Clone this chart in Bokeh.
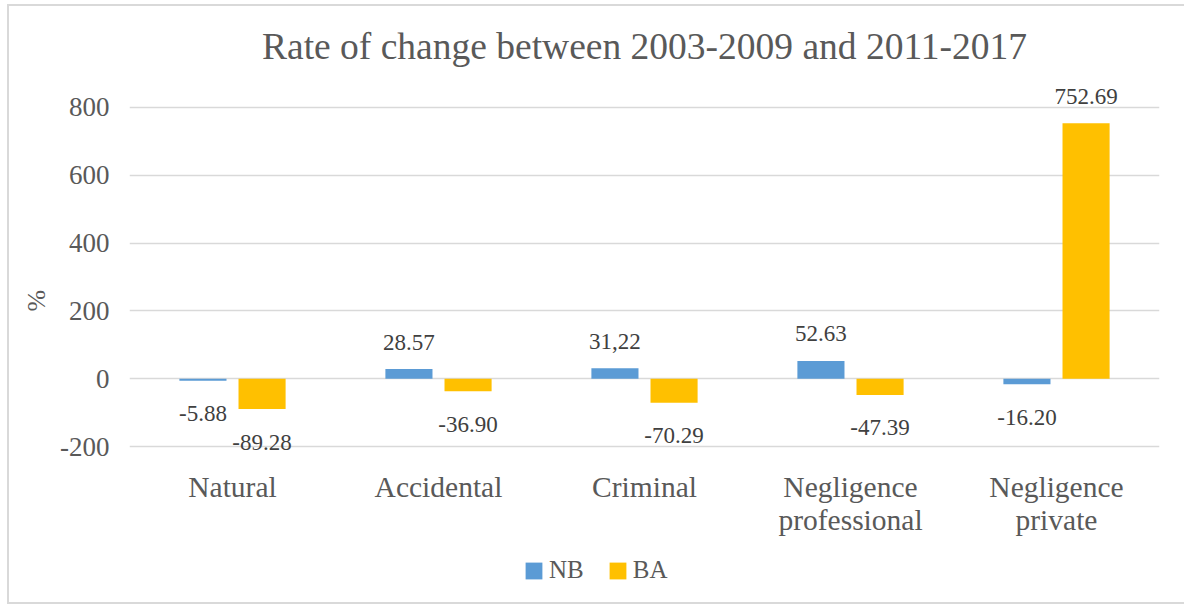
from bokeh.plotting import figure
from bokeh.models import ColumnDataSource, Legend, LegendItem, FactorRange, LabelSet, Title
from bokeh.transform import dodge
from bokeh.core.properties import value
from bokeh.embed import file_html
from bokeh.resources import INLINE

# ---- data ----
categories = ["Natural", "Accidental", "Criminal", "Negligence\nprofessional", "Negligence\nprivate"]
nb_values = [-5.88, 28.57, 31.22, 52.63, -16.20]
ba_values = [-89.28, -36.90, -70.29, -47.39, 752.69]
nb_labels = ["-5.88", "28.57", "31,22", "52.63", "-16.20"]
ba_labels = ["-89.28", "-36.90", "-70.29", "-47.39", "752.69"]
y_ticks = [-200, 0, 200, 400, 600, 800]
series_names = ["NB", "BA"]
title_text = "Rate of change between 2003-2009 and 2011-2017"
y_label = "%"

FONT = "Liberation Serif"
NB_COLOR = "#5B9BD5"
BA_COLOR = "#FFC000"
TEXT_GRAY = "#595959"
LABEL_GRAY = "#404040"
NBSP = "\u00a0"

def offsets(vals):
    return [27 if v >= 0 else -33 for v in vals]

line1 = [c.split("\n")[0] for c in categories]
line2 = [c.split("\n")[1] if "\n" in c else "" for c in categories]

src = ColumnDataSource(dict(
    cat=categories, nb=nb_values, ba=ba_values,
    nb_lab=nb_labels, ba_lab=ba_labels,
    nb_off=offsets(nb_values), ba_off=offsets(ba_values),
    floor=[min(y_ticks)] * len(categories),
    line1=line1, line2=line2,
))

p = figure(
    x_range=FactorRange(*categories), y_range=(-659, 870),
    width=1177, height=600, output_backend="svg", toolbar_location=None,
    min_border_left=120, min_border_right=27, min_border_top=76, min_border_bottom=4,
)
p.styles = {"border-left": "2px solid #d9d9d9", "border-top": "2px solid #d9d9d9",
            "border-bottom": "2px solid #d9d9d9", "margin-left": "7px", "margin-top": "4px"}
p.outline_line_color = None
p.background_fill_color = "white"
p.border_fill_color = "white"

p.title = Title(text=title_text, align="center", text_font=FONT, text_font_size="37.5px",
                text_font_style="normal", text_color=TEXT_GRAY, standoff=34)

BW = 0.2286
OFF = 0.1435
r_nb = p.vbar(x=dodge("cat", -OFF, range=p.x_range), top="nb", bottom=0, width=BW,
              source=src, fill_color=NB_COLOR, line_color=None)
r_ba = p.vbar(x=dodge("cat", OFF, range=p.x_range), top="ba", bottom=0, width=BW,
              source=src, fill_color=BA_COLOR, line_color=None)

for key, lab, off, d in (("nb", "nb_lab", "nb_off", -OFF), ("ba", "ba_lab", "ba_off", OFF)):
    ls = LabelSet(x=dodge("cat", d, range=p.x_range), y=key, text=lab, y_offset=off,
                  source=src, text_align="center", text_baseline="middle",
                  text_font=value(FONT), text_font_size="23px", text_color=LABEL_GRAY)
    p.add_layout(ls)

# category labels under the lowest gridline (two lines, each centred)
for col, yoff in (("line1", -24), ("line2", -57)):
    p.add_layout(LabelSet(x="cat", y="floor", text=col, y_offset=yoff, source=src,
                          text_align="center", text_baseline="top",
                          text_font=value(FONT), text_font_size="29.5px",
                          text_color=TEXT_GRAY))
p.xaxis.visible = False

# y axis
p.yaxis.ticker = y_ticks
p.yaxis.major_label_overrides = {t: str(t) for t in y_ticks}
p.yaxis.axis_line_color = None
p.yaxis.major_tick_line_color = None
p.yaxis.minor_tick_line_color = None
p.yaxis.major_tick_out = 0
p.yaxis.major_label_standoff = 20
p.yaxis.major_label_text_font = FONT
p.yaxis.major_label_text_font_size = "27px"
p.yaxis.major_label_text_color = TEXT_GRAY
p.yaxis.axis_label = NBSP * 13 + y_label
p.yaxis.axis_label_standoff = 6
p.yaxis.axis_label_text_font = FONT
p.yaxis.axis_label_text_font_size = "26px"
p.yaxis.axis_label_text_font_style = "normal"
p.yaxis.axis_label_text_color = TEXT_GRAY

p.xgrid.grid_line_color = None
p.ygrid.grid_line_color = "#d9d9d9"
p.ygrid.grid_line_width = 1.5

legend = Legend(
    items=[LegendItem(label=series_names[0], renderers=[r_nb]),
           LegendItem(label=series_names[1], renderers=[r_ba])],
    orientation="horizontal", location=(394, 18),
    glyph_width=21, glyph_height=21, label_standoff=5, spacing=23,
    padding=0, margin=0, border_line_color=None, background_fill_alpha=0,
    label_text_font=FONT, label_text_font_size="25px", label_text_color=TEXT_GRAY,
)
p.add_layout(legend)

open("out.html", "w").write(file_html(p, INLINE))
